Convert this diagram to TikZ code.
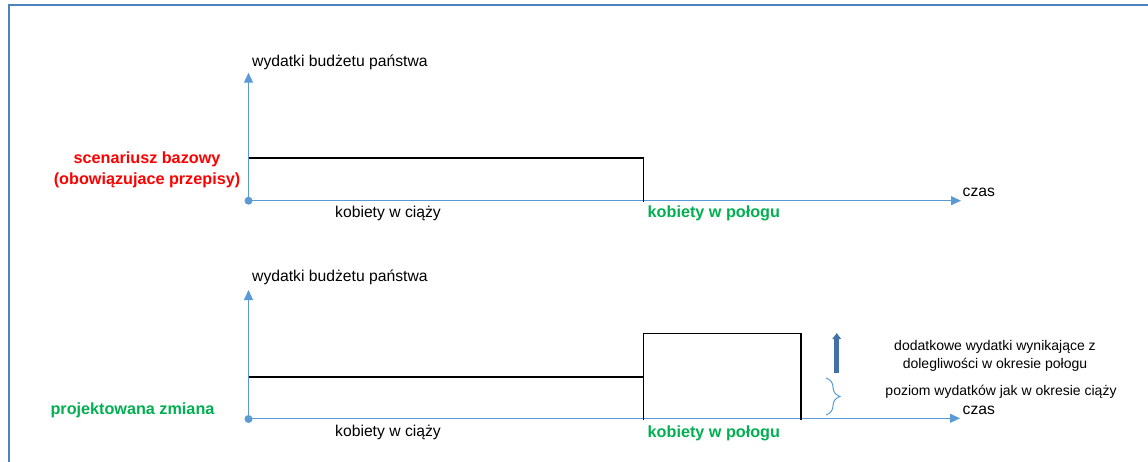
\documentclass[tikz,border=0pt]{standalone}
\usepackage{fontspec}
\setmainfont{Liberation Sans}
\usetikzlibrary{arrows.meta,decorations.pathreplacing}
\definecolor{axisblue}{RGB}{91,155,213}
\definecolor{frameblue}{RGB}{79,129,189}
\definecolor{arrowblue}{RGB}{65,113,165}
\definecolor{xred}{RGB}{255,0,0}
\definecolor{xgreen}{RGB}{0,176,80}
\tikzset{
  lbl/.style={inner sep=0pt, font=\fontsize{15.7}{18}\selectfont, text height=0.6em, text depth=0.34em, yshift=-2.5pt},
  sml/.style={inner sep=0pt, font=\fontsize{14}{17}\selectfont, text height=0.6em, text depth=0.34em, yshift=-2pt},
  bld/.style={lbl, font=\fontsize{16.2}{19}\selectfont\bfseries},
  axis/.style={draw=axisblue, line width=1pt, -{Triangle[width=9pt,length=10pt]}},
  level/.style={draw=black, line width=1.6pt},
  dot/.style={circle, fill=axisblue, minimum size=8pt, inner sep=0pt},
}
\begin{document}
\begin{tikzpicture}[x=1pt,y=-1pt]
\useasboundingbox (0,0) rectangle (1148,461);
% frame
\draw[frameblue, line width=2pt] (9,470) -- (9,4.5) -- (1160,4.5);

% ===== top chart =====
\node[dot] (o1) at (248.5,200.7) {};
\coordinate (y1) at (248.5,72.7);
\coordinate (x1) at (961,200.7);
\draw[axis] (o1.center) -- (y1);
\draw[axis] (o1.center) -- (x1);
\node[lbl, anchor=west] (yl1) at (252,62.7) {wydatki budżetu państwa};
\node[lbl, anchor=west] (cz1) at (962.5,193) {czas};
\coordinate (a1) at (248.5,158);
\coordinate (b1) at (643.3,158);
\coordinate (c1) at (643.3,202);
\draw[level, line cap=butt] (a1) -- (b1) -- (c1);
\node[bld, text=xred] (s1) at (147,159.3) {scenariusz bazowy};
\node[bld, text=xred] (s2) at (147,180.7) {(obowiązujace przepisy)};
\node[lbl] (k1) at (388,213.5) {kobiety w ciąży};
\node[bld, text=xgreen, anchor=west] (p1) at (647.5,214) {kobiety w połogu};

% ===== bottom chart =====
\node[dot] (o2) at (248.5,419) {};
\coordinate (y2) at (248.5,290);
\coordinate (x2) at (960,418.3);
\draw[axis] (o2.center) -- (y2);
\draw[axis] (248.5,418.3) -- (x2);
\node[lbl, anchor=west] (yl2) at (252,277.5) {wydatki budżetu państwa};
\node[lbl, anchor=west] (cz2) at (962.5,410.7) {czas};
\coordinate (a2) at (248.5,376.7);
\coordinate (b2) at (643.3,376.7);
\coordinate (c2) at (643.3,420);
\coordinate (d2) at (643.3,333.3);
\coordinate (e2) at (801,333.3);
\coordinate (f2) at (801,420);
\draw[level] (a2) -- (b2);
\draw[level] (c2) -- (d2) -- (e2) -- (f2);
\node[bld, text=xgreen] (s3) at (132.5,410.7) {projektowana zmiana};
\node[lbl] (k2) at (388,432.7) {kobiety w ciąży};
\node[bld, text=xgreen, anchor=west] (p2) at (647.5,433.3) {kobiety w połogu};

% increase arrow and brace
\coordinate (ua) at (836.7,373);
\coordinate (ub) at (836.7,333);
\draw[arrowblue, line width=4.5pt, -{Triangle[width=8.5pt,length=6pt]}] (ua) -- (ub);
\coordinate (br1) at (826,378);
\coordinate (br2) at (826,415);
\draw[axisblue, line width=1pt, decorate, decoration={brace, amplitude=14pt}] (br1) -- (br2);
\node[sml] (t1) at (995,346.7) {dodatkowe wydatki wynikające z};
\node[sml] (t2) at (995,365.5) {dolegliwości w okresie połogu};
\node[sml] (t3) at (1001,391.7) {poziom wydatków jak w okresie ciąży};
\end{tikzpicture}
\end{document}
